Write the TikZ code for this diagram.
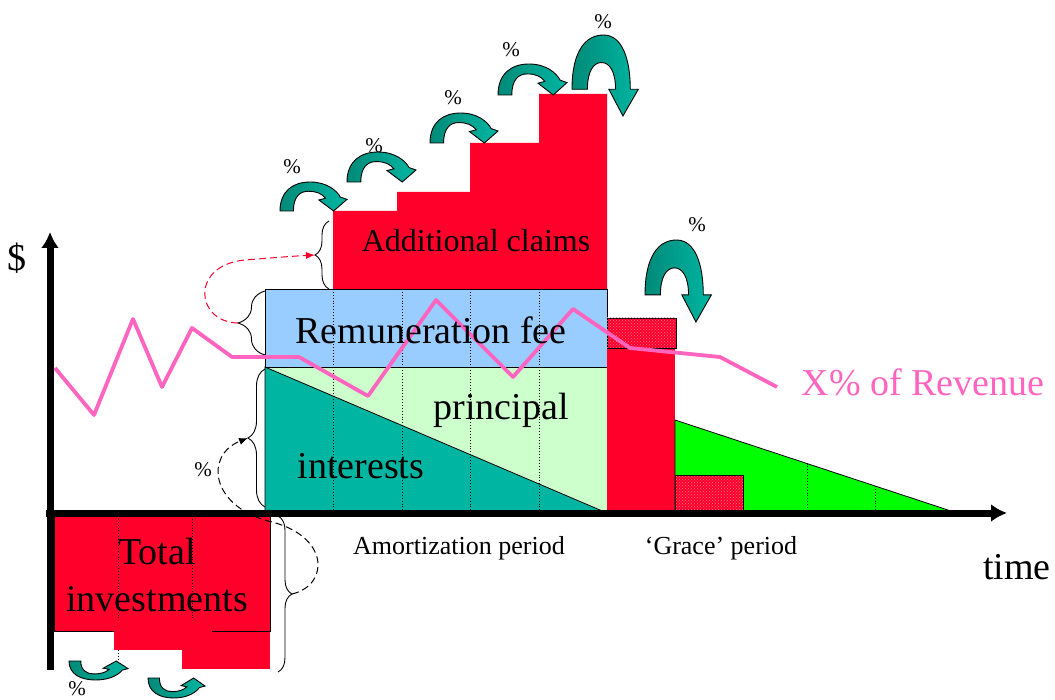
\documentclass[tikz,border=0pt]{standalone}
\usepackage{fontspec}
\setmainfont{Liberation Serif}
\usetikzlibrary{arrows.meta,decorations.pathreplacing,patterns}
\definecolor{rd}{RGB}{255,0,43}
\definecolor{skyb}{RGB}{153,204,255}
\definecolor{paleg}{RGB}{204,255,204}
\definecolor{tealf}{RGB}{0,182,162}
\definecolor{tealdk}{RGB}{0,138,120}
\definecolor{lime}{RGB}{0,255,0}
\definecolor{pnk}{RGB}{255,100,190}
% curved arrow over a step: x, y of the foot, width, yscale
\newcommand\tealover[4]{\begin{scope}[shift={(#1,#2)},xscale=#3,yscale=#4]
\path[tealarr](0,0)..controls(0,0.7)and(0.2,1)..(0.45,1)..controls(0.7,1)and(0.85,0.7)..(0.9,0.48)--(1,0.4)--(0.8,0)--(0.58,0.38)--(0.68,0.44)..controls(0.62,0.6)and(0.55,0.68)..(0.42,0.68)..controls(0.3,0.68)and(0.2,0.5)..(0.2,0)--cycle;
\end{scope}}
% u-turn arrow
\newcommand\tealturn[4]{\begin{scope}[shift={(#1,#2)},xscale=#3,yscale=#4]
\path[tealarr](0,0.33)..controls(0,0.8)and(0.2,1)..(0.47,1)..controls(0.75,1)and(0.87,0.7)..(0.87,0.33)--(0.99,0.33)--(0.76,0)--(0.55,0.33)--(0.65,0.33)..controls(0.65,0.55)and(0.56,0.66)..(0.44,0.66)..controls(0.32,0.66)and(0.23,0.55)..(0.23,0.33)--cycle;
\end{scope}}
\begin{document}
\begin{tikzpicture}[x=1pt,y=-1pt]
\tikzstyle{axis}=[draw,line width=7pt,-{Latex[length=16pt,width=18pt]}]
\tikzstyle{box}=[draw,line width=0.8pt]
\tikzstyle{hatch}=[pattern=crosshatch dots,pattern color=white!45!rd]
\tikzstyle{grid}=[draw,dotted,line width=0.9pt]
\tikzstyle{brc}=[draw,line width=0.9pt,decorate,decoration={brace,amplitude=#1}]
\tikzstyle{tealarr}=[draw,line width=0.9pt,left color=tealdk,right color=tealf]
\tikzstyle{big}=[font=\fontsize{38}{47}\selectfont,inner sep=0pt]
\tikzstyle{small}=[font=\fontsize{26}{30}\selectfont,inner sep=0pt]
\tikzstyle{pct}=[font=\fontsize{21}{24}\selectfont,inner sep=0pt]
\clip(0,0)rectangle(1055,700);
% amortization block
\path[box,fill=paleg](265,367)rectangle(607,513);
\path[box,fill=tealf](265,367)--(607,513)--(265,513)--cycle;
\path[box,fill=skyb](265,289)rectangle(607,367);
\foreach \x in {333.5,402,470.5,539}\path[grid](\x,289)--(\x,513);
\fill[rd](333,289)--(333,211)--(397,211)--(397,192)--(470,192)--(470,143)--(539,143)--(539,94)--(607,94)--(607,289)--cycle;
% grace period
\fill[rd](607,348)rectangle(675,513);
\path[box,fill=rd](607,318)rectangle(676,348);\fill[hatch](607,318)rectangle(676,348);
\path[box,fill=lime](675,420)--(957,513)--(675,513)--cycle;
\path[grid](807,463.5)--(807,513);\path[grid](875,486)--(875,513);
\path[box,fill=rd](675,475)rectangle(743,513);\fill[hatch](675,475)rectangle(743,513);
% total investments
\fill[rd](182,631)rectangle(270,669);
\path[box,fill=rd](54,513)rectangle(270,631);
\fill[rd](114,630)rectangle(212,650);
\path[grid](118,513)--(118,620);\path[grid](118,650)--(118,662);\path[grid](192,513)--(192,620);
% axes
\coordinate(o)at(50,513);
\path[axis](50,670)--(50,232)coordinate(ytop);
\path[axis](46,513)--(1007,513)coordinate(xend);
% braces
\path[brc=14](329,289)--(329,221);\coordinate(claimtip)at(315,255);
\path[brc=27](265,355)--(265,291);\coordinate(feetip)at(238,323);
\path[brc=17](265,507)--(265,369);\coordinate(debttip)at(248,438);
\path[brc=14](278,516)--(278,672);\coordinate(invtip)at(292,594);
\draw[rd,dashed,line width=1pt,dash pattern=on 7pt off 4pt,-{Latex[length=9pt,width=7pt]}](feetip)..controls(195,322)and(190,265)..(245,260)..controls(270,258)and(295,256)..(claimtip);
\draw[dashed,line width=1pt,dash pattern=on 7pt off 4pt,-{Latex[length=9pt,width=7pt]}](invtip)..controls(330,585)and(330,535)..(268,521)..controls(210,505)and(205,455)..(debttip);
% revenue line
\draw[pnk,line width=3.8pt,line join=round](55,368)--(94,415)--(133,319)--(162,387)--(192,328)--(232,357)--(299,357)--(368,396)--(436,300)--(513,377)--(573,309)--(630,348)--(720,357)--(777,387);
% labels
\node[big,font=\fontsize{32}{38}\selectfont](claims)at(476,241){Additional claims};
\node[big](fee)at(431,330){Remuneration fee};
\node[big](princ)at(501,410){principal};
\node[big](inter)at(361,466){interests};
\node[big,align=center](invest)at(157,575){Total\\investments};
\node[big,text=pnk](rev)at(923,382){X\% of Revenue};
\node[big](dollar)at(17,258){\$};
\node[big](time)at(1017,567){time};
\node[small](amort)at(459,548){Amortization period};
\node[small](grace)at(721,548){`Grace' period};
% interest arrows
\tealover{280}{211}{67}{-29}\tealover{347}{182}{69}{-30}
\tealover{430}{143}{68}{-30}\tealover{498}{95}{69}{-31}
\tealturn{572}{116}{67}{-81}\tealturn{645}{322}{67}{-82}
\tealover{69}{661}{59}{19}\tealover{148}{678}{57}{20}
\foreach \p/\x/\y in {a/292/167,b/374/146,c/453/98,d/511/50,e/603/22,f/697/225,g/203/470,h/77/689}\node[pct](pct\p)at(\x,\y){\%};
\end{tikzpicture}
\end{document}
